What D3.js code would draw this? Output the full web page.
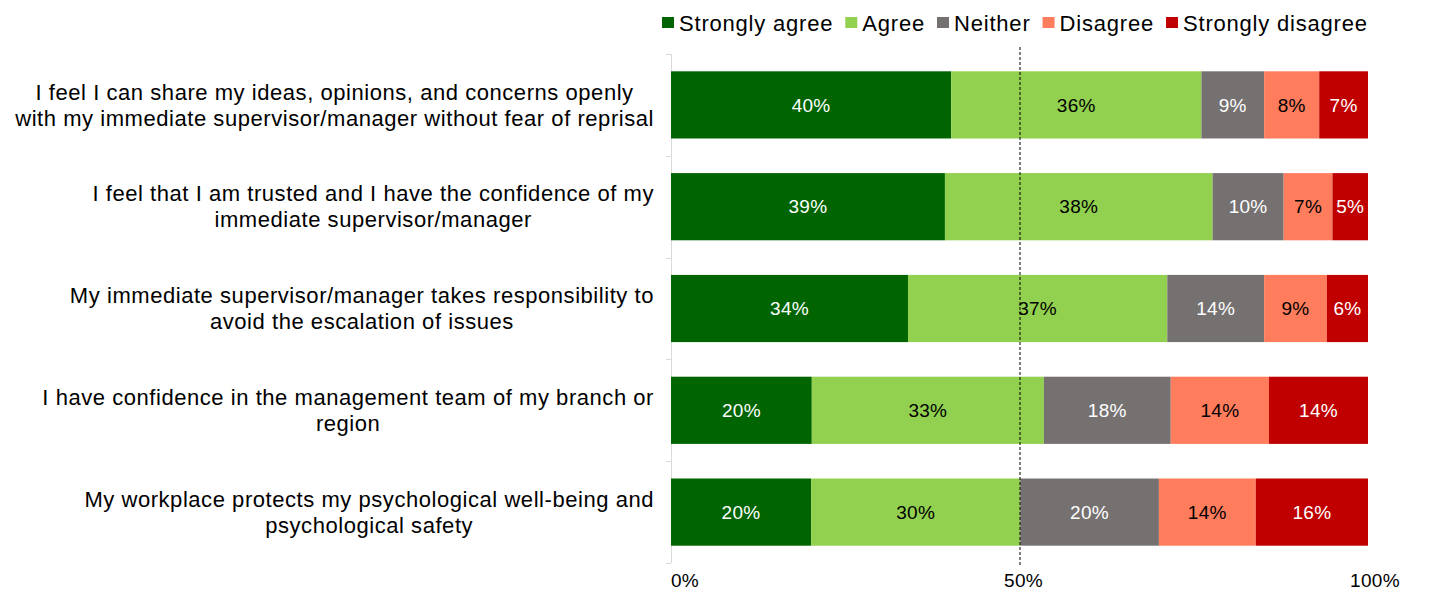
<!DOCTYPE html>
<html>
<head>
<meta charset="utf-8">
<script src="https://cdn.jsdelivr.net/npm/d3@7"></script>
<style>
  body { margin: 0; background: #fff; }
  svg { display: block; font-family: "Liberation Sans", Arial, sans-serif; }
</style>
</head>
<body>
<svg id="chart" width="1432" height="610"></svg>
<script>
// Survey statements (one row each), split into display lines
const categories = [
  ["I feel I can share my ideas, opinions, and concerns openly", "with my immediate supervisor/manager without fear of reprisal"],
  ["I feel that I am trusted and I have the confidence of my", "immediate supervisor/manager"],
  ["My immediate supervisor/manager takes responsibility to", "avoid the escalation of issues"],
  ["I have confidence in the management team of my branch or", "region"],
  ["My workplace protects my psychological well-being and", "psychological safety"]
];

const seriesNames = ["Strongly agree", "Agree", "Neither", "Disagree", "Strongly disagree"];

// share of respondents (%), per statement
const stronglyAgree    = [40.2, 39.3, 34.0, 20.2, 20.1];
const agree            = [35.9, 38.4, 37.2, 33.3, 30.0];
const neither          = [9.0, 10.2, 13.9, 18.2, 19.9];
const disagree         = [7.9, 7.0, 9.0, 14.1, 13.9];
const stronglyDisagree = [7.0, 5.1, 5.9, 14.2, 16.1];

const xTicks = [0, 50, 100];

const colors = ["#006400", "#92D050", "#767171", "#FF7C5C", "#C00000"];
const labelColors = ["#fff", "#000", "#fff", "#000", "#fff"];

const svg = d3.select("#chart");

const x = d3.scaleLinear().domain([0, 100]).range([671, 1368]);
const y = d3.scaleBand()
    .domain(d3.range(categories.length))
    .range([54, 563])
    .paddingInner(0.34)
    .paddingOuter(0.17);

// build stack input from the named series
const rows = categories.map((c, i) => ({
    idx: i,
    "Strongly agree": stronglyAgree[i],
    "Agree": agree[i],
    "Neither": neither[i],
    "Disagree": disagree[i],
    "Strongly disagree": stronglyDisagree[i]
}));
const stacked = d3.stack().keys(seriesNames)(rows);

// vertical axis line with category separators
const axisG = svg.append("g");
axisG.append("line")
    .attr("x1", x(0) + 0.5).attr("x2", x(0) + 0.5)
    .attr("y1", y.range()[0]).attr("y2", y.range()[1])
    .attr("stroke", "#d9d9d9").attr("stroke-width", 1);
const boundaries = d3.range(categories.length + 1).map(i => y.range()[0] + i * y.step());
axisG.selectAll(".sep").data(boundaries).enter().append("line")
    .attr("x1", x(0) - 5).attr("x2", x(0))
    .attr("y1", d => Math.round(d) + 0.5).attr("y2", d => Math.round(d) + 0.5)
    .attr("stroke", "#d9d9d9");

// bars
const layer = svg.append("g").selectAll("g")
    .data(stacked).enter().append("g")
    .attr("fill", (d, i) => colors[i]);

layer.selectAll("rect")
    .data(d => d).enter().append("rect")
    .attr("x", d => x(d[0]))
    .attr("y", d => y(d.data.idx))
    .attr("width", d => x(d[1]) - x(d[0]))
    .attr("height", y.bandwidth());

// value labels
stacked.forEach((s, si) => {
    svg.append("g").selectAll("text")
        .data(s).enter().append("text")
        .attr("x", d => (x(d[0]) + x(d[1])) / 2)
        .attr("y", d => y(d.data.idx) + y.bandwidth() / 2)
        .attr("dy", "0.35em")
        .attr("text-anchor", "middle")
        .attr("font-size", 19)
        .attr("letter-spacing", 0.3)
        .attr("fill", labelColors[si])
        .text(d => Math.round(d[1] - d[0]) + "%");
});

// 50% reference line
svg.append("line")
    .attr("x1", x(50) + 0.5).attr("x2", x(50) + 0.5)
    .attr("y1", 47).attr("y2", 566)
    .attr("stroke", "#000").attr("stroke-width", 1)
    .attr("stroke-dasharray", "3,2");

// x tick labels
svg.append("g").selectAll("text")
    .data(xTicks).enter().append("text")
    .attr("x", d => x(d) + (d === 0 ? 14 : d === 50 ? 4 : 7))
    .attr("y", 587)
    .attr("text-anchor", "middle")
    .attr("font-size", 19)
    .attr("letter-spacing", 0.3)
    .attr("fill", "#000")
    .text(d => d + "%");

// category labels, centred lines, block right-aligned to the axis
const labelRight = 654;
const catG = svg.append("g");
categories.forEach((lines, i) => {
    const cy = y(i) + y.bandwidth() / 2;
    const t = catG.append("text")
        .attr("font-size", 22)
        .attr("letter-spacing", 0.55)
        .attr("fill", "#000")
        .attr("text-anchor", "middle");
    const spans = lines.map((ln, j) => t.append("tspan")
        .attr("y", cy + (j - (lines.length - 1) / 2) * 26)
        .attr("dy", "0.35em")
        .text(ln));
    const w = d3.max(spans, s => s.node().getComputedTextLength());
    spans.forEach(s => s.attr("x", labelRight - w / 2));
});

// legend
const legend = svg.append("g").attr("font-size", 22).attr("letter-spacing", 0.8);
let lx = 662;
seriesNames.forEach((name, i) => {
    legend.append("rect")
        .attr("x", lx).attr("y", 17)
        .attr("width", 12).attr("height", 11)
        .attr("fill", colors[i]);
    const t = legend.append("text")
        .attr("x", lx + 17).attr("y", 23)
        .attr("dy", "0.35em")
        .attr("fill", "#000")
        .text(name);
    lx += 17 + t.node().getComputedTextLength() + 12;
});
</script>
</body>
</html>
